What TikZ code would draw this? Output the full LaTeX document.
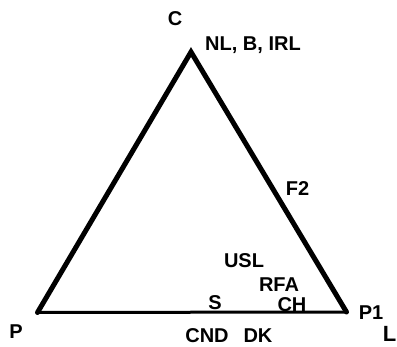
\documentclass[tikz,border=0pt]{standalone}
\usepackage{fontspec}
\setmainfont{Liberation Sans}
\begin{document}
\begin{tikzpicture}[x=1pt,y=-1pt,
  lab/.style={font=\fontsize{20}{20}\selectfont\bfseries, inner sep=0pt, text height=14.3pt, text depth=0pt, anchor=center},
  biglab/.style={font=\fontsize{22}{22}\selectfont\bfseries, inner sep=0pt, text height=15.8pt, text depth=0pt, anchor=center},
  side/.style={line width=5pt, line join=miter, line cap=round},
  basel/.style={line width=3pt}]
\useasboundingbox (0,0) rectangle (397,347);
\coordinate (A) at (191,52);
\coordinate (PL) at (37.5,312.5);
\coordinate (PR) at (346.5,312);
\draw[side] (PL) -- (A) -- (PR);
\draw[basel] (PL) -- (PR);
\node[lab] (c) at (175,18.5) {C};
\node[lab] (p) at (16,331.5) {P};
\node[biglab] (l) at (389.5,333.5) {L};
\node[lab] (nl) at (253,43) {NL, B, IRL};
\node[lab] (f2) at (297.5,188.5) {F2};
\node[lab] (usl) at (244,260) {USL};
\node[lab] (rfa) at (279,284.5) {RFA};
\node[lab] (ch) at (292,304) {CH};
\node[lab] (s) at (215,302) {S};
\node[lab] (cnd) at (207,335) {CND};
\node[lab] (dk) at (258,335) {DK};
\node[lab] (p1) at (371,312) {P1};
\end{tikzpicture}
\end{document}
